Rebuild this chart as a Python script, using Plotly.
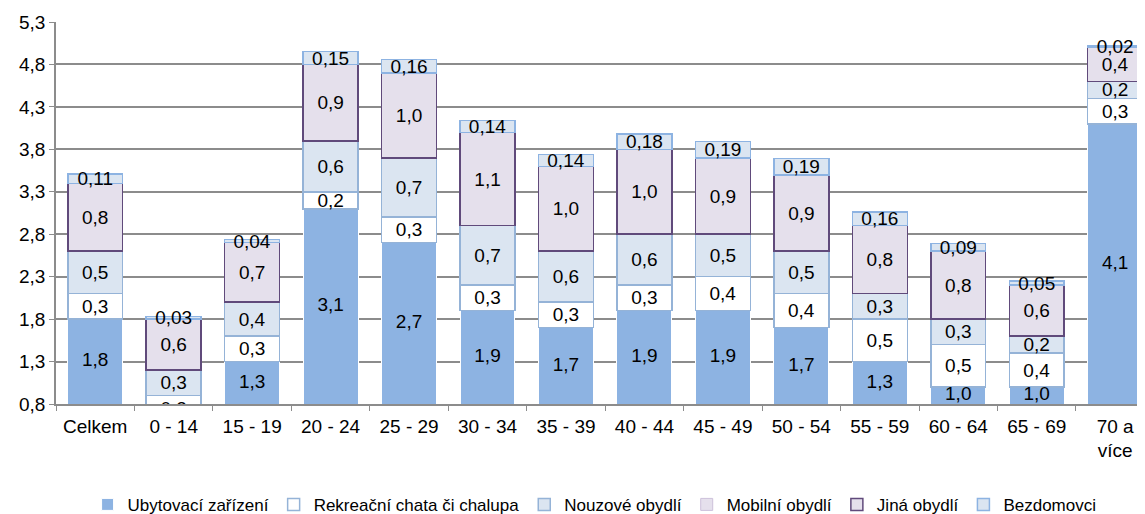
import plotly.graph_objects as go

categories = ["Celkem", "0 - 14", "15 - 19", "20 - 24", "25 - 29", "30 - 34", "35 - 39",
              "40 - 44", "45 - 49", "50 - 54", "55 - 59", "60 - 64", "65 - 69", "70 a<br>více"]

ubytovaci = [1.8, 0.6, 1.3, 3.1, 2.7, 1.9, 1.7, 1.9, 1.9, 1.7, 1.3, 1.0, 1.0, 4.1]
rekreacni = [0.3, 0.3, 0.3, 0.2, 0.3, 0.3, 0.3, 0.3, 0.4, 0.4, 0.5, 0.5, 0.4, 0.3]
nouzove = [0.5, 0.3, 0.4, 0.6, 0.7, 0.7, 0.6, 0.6, 0.5, 0.5, 0.3, 0.3, 0.2, 0.2]
mobilni = [0, 0, 0, 0, 0, 0, 0, 0, 0, 0, 0, 0, 0, 0]
jina = [0.8, 0.6, 0.7, 0.9, 1.0, 1.1, 1.0, 1.0, 0.9, 0.9, 0.8, 0.8, 0.6, 0.4]
bezdomovci = [0.11, 0.03, 0.04, 0.15, 0.16, 0.14, 0.14, 0.18, 0.19, 0.19, 0.16, 0.09, 0.05, 0.02]

ytick_vals = [0.8, 1.3, 1.8, 2.3, 2.8, 3.3, 3.8, 4.3, 4.8, 5.3]
y_min, y_max = 0.8, 5.3

FONT = "Liberation Sans, Arial, sans-serif"


def labels(values, decimals):
    # czech decimal comma, empty for zero values
    return [f"{v:.{decimals}f}".replace(".", ",") if v else "" for v in values]


series = [
    ("Ubytovací zařízení", ubytovaci, 1, "#8db3e2", "#ffffff", 1),
    ("Rekreační chata či chalupa", rekreacni, 1, "#ffffff", "#95b3d7", 1.5),
    ("Nouzové obydlí", nouzove, 1, "#dbe5f1", "#95b3d7", 1.5),
    ("Mobilní obydlí", mobilni, 1, "#e5e0ec", "#ccc0da", 1),
    ("Jiná obydlí", jina, 1, "#e5e0ec", "#604a7b", 1.5),
    ("Bezdomovci", bezdomovci, 2, "#dbe5f1", "#8db3e2", 1.5),
]

fig = go.Figure()
for i, (name, vals, dec, fill, line, lw) in enumerate(series):
    # bottom series gets its labels from a separate text layer (centred on the visible part)
    txt = labels(vals, dec) if i > 0 else None
    fig.add_trace(go.Bar(
        x=categories,
        y=vals,
        name=name,
        text=txt,
        textposition="inside",
        insidetextanchor="middle",
        textangle=0,
        constraintext="none",
        textfont=dict(color="black", size=19, family=FONT),
        marker=dict(color=fill, line=dict(color=line, width=lw)),
    ))

# labels of the bottom series, in the middle of the part above the axis minimum
vis = [(c, v) for c, v in zip(categories, ubytovaci) if v > y_min]
fig.add_trace(go.Scatter(
    x=[c for c, v in vis],
    y=[(y_min + v) / 2 for c, v in vis],
    text=labels([v for c, v in vis], 1),
    mode="text",
    textfont=dict(color="black", size=19, family=FONT),
    showlegend=False,
    hoverinfo="skip",
))

# the page body adds an 8px margin, so the figure is a bit smaller than the window
fig.update_layout(
    width=1137,
    height=506,
    barmode="stack",
    bargap=0.30,
    plot_bgcolor="white",
    paper_bgcolor="white",
    separators=", ",
    font=dict(family=FONT, size=19, color="black"),
    margin=dict(l=48, r=0, t=14, b=110, autoexpand=False),
    legend=dict(
        orientation="h",
        x=0.029,
        xanchor="left",
        y=-0.264,
        yanchor="middle",
        font=dict(size=17),
        itemwidth=30,
        traceorder="normal",
    ),
)
fig.update_yaxes(
    range=[y_min, y_max],
    tickvals=ytick_vals,
    tickformat=".1f",
    showgrid=True,
    gridcolor="#8c8c8c",
    gridwidth=1.5,
    showline=True,
    linecolor="#8c8c8c",
    linewidth=1.5,
    ticks="outside",
    ticklen=5,
    tickcolor="#8c8c8c",
    zeroline=False,
)
fig.update_xaxes(
    range=[-0.5, 13.38],
    showline=True,
    linecolor="#8c8c8c",
    linewidth=1.5,
    ticks="outside",
    tickson="boundaries",
    ticklen=5,
    tickcolor="#8c8c8c",
    ticklabelstandoff=4,
)

fig.write_html("out.html")
